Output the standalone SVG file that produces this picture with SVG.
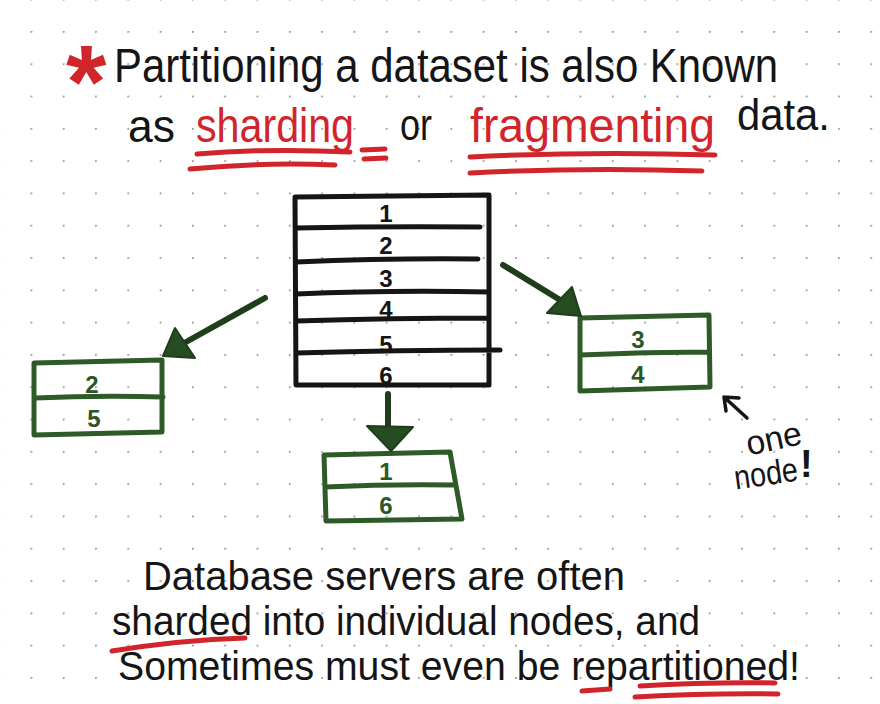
<svg xmlns="http://www.w3.org/2000/svg" width="880" height="704" viewBox="0 0 880 704">
<style>
.hand{font-family:"Liberation Sans","DejaVu Sans",sans-serif;fill:#151515}
.red{fill:#d1252b}
.num{font-family:"Liberation Sans","DejaVu Sans",sans-serif;font-weight:bold;font-size:24px;text-anchor:middle;fill:#151515}
.gnum{fill:#2c5626}
.blk{fill:none;stroke:#151515;stroke-width:5;stroke-linecap:round;stroke-linejoin:round}
.grn{fill:none;stroke:#2e5a28;stroke-width:5;stroke-linecap:round;stroke-linejoin:round}
.ul{fill:none;stroke:#d1252b;stroke-width:5;stroke-linecap:round}
.arr{stroke:#1f3d1b;stroke-width:6;stroke-linecap:round;fill:none}
.head{fill:#264d21;stroke:#1f3d1b;stroke-width:2;stroke-linejoin:round}
</style>
<defs>
<pattern id="dots" x="30.5" y="31" width="32.3" height="32.3" patternUnits="userSpaceOnUse">
<circle cx="0.8" cy="0.8" r="1.1" fill="#9a9a9a"/>
</pattern>
</defs>
<rect width="880" height="704" fill="#ffffff"/>
<rect width="880" height="704" fill="url(#dots)"/>

<g id="title">
<text class="hand red" x="66" y="118" font-size="104" font-weight="bold">*</text>
<text class="hand" x="114" y="82" font-size="48" textLength="664" lengthAdjust="spacingAndGlyphs">Partitioning a dataset is also Known</text>
<text class="hand" x="128" y="142" font-size="46" textLength="47" lengthAdjust="spacingAndGlyphs">as</text>
<text class="hand red" x="196" y="142" font-size="48" textLength="158" lengthAdjust="spacingAndGlyphs">sharding</text>
<text class="hand" x="400" y="140" font-size="44" textLength="32" lengthAdjust="spacingAndGlyphs">or</text>
<text class="hand red" x="470" y="142" font-size="48" textLength="245" lengthAdjust="spacingAndGlyphs">fragmenting</text>
<text class="hand" x="737" y="130" font-size="44" textLength="93" lengthAdjust="spacingAndGlyphs">data.</text>
<path class="ul" d="M197 154 Q270 148 350 152 M190 169 Q260 162 335 165 M362 150 L385 149 M364 159 L386 158 M470 157 Q590 151 715 155 M470 173 Q585 167 702 171"/>
</g>

<g id="source-table">
<path class="blk" d="M295 197 L489 195 L489 385 M295 197 L296 385 L489 385 M296 228 Q390 226 480 227 M296 262 Q390 258 478 259 M296 294 Q390 290 489 292 M296 321 Q390 318 489 318 M296 353 Q400 350 500 350"/>
<text class="num" x="386" y="222">1</text>
<text class="num" x="386" y="254">2</text>
<text class="num" x="386" y="287">3</text>
<text class="num" x="386" y="318">4</text>
<text class="num" x="386" y="353">5</text>
<text class="num" x="386" y="384">6</text>
</g>

<g id="node-left">
<path class="grn" d="M34 363 L162 360 L162 432 L34 435 Z M35 398 Q100 395 163 397"/>
<text class="num gnum" x="92" y="393">2</text>
<text class="num gnum" x="94" y="427">5</text>
</g>

<g id="node-right">
<path class="grn" d="M580 318 L709 315 L710 387 L580 391 Z M580 355 Q645 352 709 352"/>
<text class="num gnum" x="638" y="348">3</text>
<text class="num gnum" x="638" y="383">4</text>
</g>

<g id="node-bottom">
<path class="grn" d="M324 455 L450 452 L462 519 L326 521 Z M325 487 Q390 484 454 485"/>
<text class="num gnum" x="386" y="480">1</text>
<text class="num gnum" x="386" y="514">6</text>
</g>

<g id="connectors">
<line class="arr" x1="265" y1="298" x2="186" y2="342"/>
<polygon class="head" points="175,328 163,356 195,358"/>
<line class="arr" x1="503" y1="265" x2="565" y2="303"/>
<polygon class="head" points="572,287 547,313 581,316"/>
<line class="arr" x1="388" y1="394" x2="388" y2="430"/>
<polygon class="head" points="367,426 413,427 391,451"/>
</g>

<g id="note">
<path d="M747 418 L724 397 M724 397 L739 398 M724 397 L726 411" fill="none" stroke="#151515" stroke-width="3.5" stroke-linecap="round"/>
<text class="hand" x="746" y="450" font-size="34" textLength="56" lengthAdjust="spacingAndGlyphs" transform="rotate(-12 774 440)">one</text>
<text class="hand" x="734" y="485" font-size="34" textLength="64" lengthAdjust="spacingAndGlyphs" transform="rotate(-8 767 475)">node</text>
<text class="hand" x="800" y="477" font-size="38" font-weight="bold">!</text>
</g>

<g id="summary">
<text class="hand" x="143" y="590" font-size="40" textLength="482" lengthAdjust="spacingAndGlyphs">Database servers are often</text>
<text class="hand" x="112" y="635" font-size="40" textLength="588" lengthAdjust="spacingAndGlyphs">sharded into individual nodes, and</text>
<text class="hand" x="118" y="680" font-size="40" textLength="682" lengthAdjust="spacingAndGlyphs">Sometimes must even be repartitioned!</text>
<path class="ul" d="M112 651 Q180 640 245 638 M582 691 L610 689 M640 686 Q710 682 775 683 M635 697 Q710 693 778 694"/>
</g>
</svg>
